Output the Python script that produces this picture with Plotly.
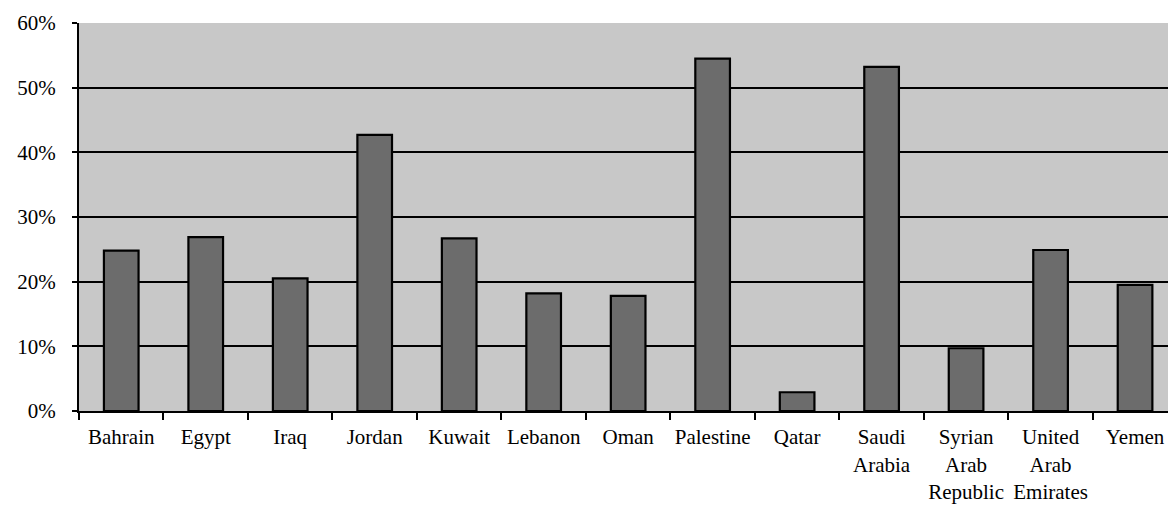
import plotly.graph_objects as go

countries = ["Bahrain", "Egypt", "Iraq", "Jordan", "Kuwait", "Lebanon", "Oman",
             "Palestine", "Qatar", "Saudi<br>Arabia", "Syrian<br>Arab<br>Republic",
             "United<br>Arab<br>Emirates", "Yemen"]
shares = [24.8, 26.9, 20.5, 42.7, 26.7, 18.2, 17.8, 54.5, 2.9, 53.2, 9.7, 24.9, 19.5]
y_ticks = [0, 10, 20, 30, 40, 50, 60]
y_tick_labels = ["0%", "10%", "20%", "30%", "40%", "50%", "60%"]

font_family = "Liberation Serif, Times New Roman, serif"

fig = go.Figure(go.Bar(
    x=list(range(len(countries))),
    y=shares,
    width=0.41,
    marker=dict(color="#6c6c6c", line=dict(color="black", width=2.2)),
))

# the page body adds an 8px margin, so the figure is sized to fit the window
fig.update_layout(
    width=1160, height=497,
    margin=dict(l=71, r=0, t=15, b=94),
    paper_bgcolor="white",
    plot_bgcolor="#c8c8c8",
    showlegend=False,
    font=dict(family=font_family, size=21, color="black"),
)
fig.update_xaxes(
    automargin=False,
    range=[-0.5, 12.39],
    tickmode="array",
    tickvals=list(range(len(countries))),
    ticktext=countries,
    showgrid=False,
    showline=True, linecolor="black", linewidth=2,
    ticks="",
    ticklabelstandoff=6,
    tickfont=dict(family=font_family, size=21, color="black"),
    zeroline=False,
    minor=dict(tickmode="array",
               tickvals=[i - 0.5 for i in range(len(countries) + 1)],
               ticks="outside", ticklen=7, tickcolor="black", tickwidth=1.5),
)
fig.update_yaxes(
    automargin=False,
    range=[0, 60],
    tickmode="array", tickvals=y_ticks, ticktext=y_tick_labels,
    showgrid=True, gridcolor="black", gridwidth=1.6,
    showline=True, linecolor="black", linewidth=2,
    ticks="outside", ticklen=5, tickcolor="black", tickwidth=1.5,
    ticklabelstandoff=12,
    tickfont=dict(family=font_family, size=21, color="black"),
    zeroline=False,
)

fig.write_html("out.html")
